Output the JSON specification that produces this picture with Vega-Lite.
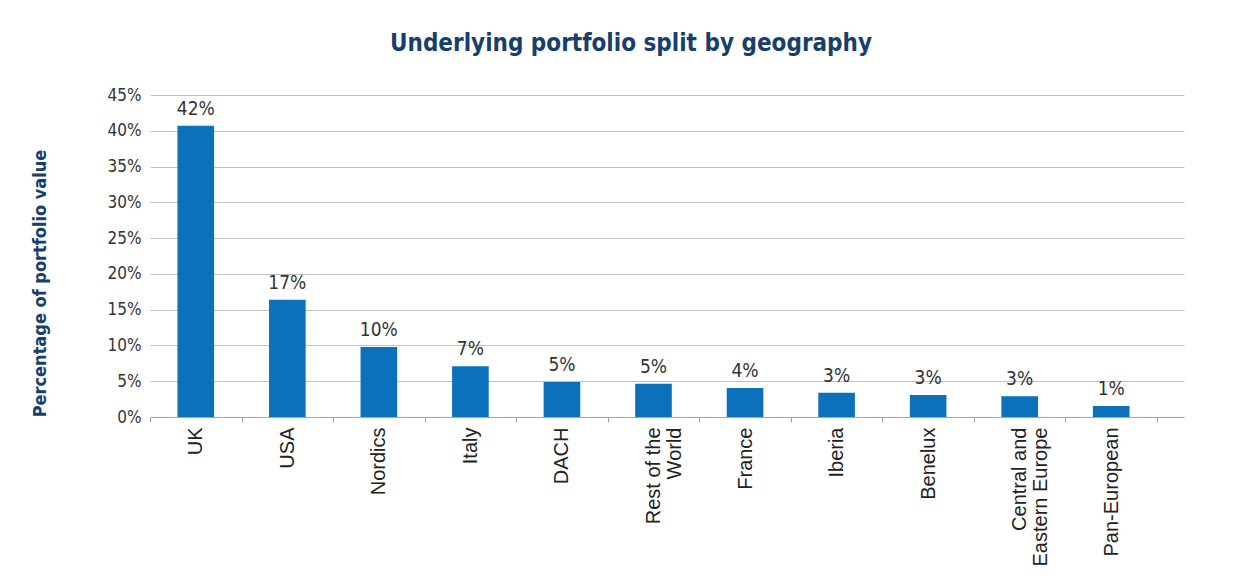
{
  "$schema": "https://vega.github.io/schema/vega-lite/v6.json",
  "width": 1034,
  "height": 322,
  "autosize": "none",
  "padding": {"left": 150, "top": 95, "right": 69, "bottom": 159},
  "background": "white",
  "title": {
    "text": "Underlying portfolio split by geography",
    "font": "Liberation Sans Narrow, DejaVu Sans Condensed, Liberation Sans, sans-serif",
    "fontWeight": "bold",
    "fontSize": 24,
    "color": "#173F6C",
    "anchor": "middle",
    "frame": "group",
    "dx": -36,
    "offset": 30
  },
  "config": {"view": {"stroke": null}},
  "data": {
    "values": [
      {"region": "UK", "share": 0.407, "label": "42%"},
      {"region": "USA", "share": 0.164, "label": "17%"},
      {"region": "Nordics", "share": 0.098, "label": "10%"},
      {"region": "Italy", "share": 0.071, "label": "7%"},
      {"region": "DACH", "share": 0.049, "label": "5%"},
      {"region": "Rest of the World", "share": 0.0465, "label": "5%"},
      {"region": "France", "share": 0.0405, "label": "4%"},
      {"region": "Iberia", "share": 0.034, "label": "3%"},
      {"region": "Benelux", "share": 0.0307, "label": "3%"},
      {"region": "Central and Eastern Europe", "share": 0.0289, "label": "3%"},
      {"region": "Pan-European", "share": 0.0154, "label": "1%"}
    ]
  },
  "encoding": {
    "x": {
      "field": "region",
      "type": "nominal",
      "sort": null,
      "scale": {"paddingInner": 0, "paddingOuter": 0.1475, "align": 0},
      "axis": {
        "title": null,
        "labelAngle": -90,
        "labelAlign": "right",
        "labelBaseline": "middle",
        "labelFont": "Liberation Sans",
        "labelFontSize": 20,
        "labelColor": "#222222",
        "labelPadding": 5,
        "labelLineHeight": 21,
        "tickBand": "extent",
        "tickSize": 5,
        "tickColor": "#A6A6A6",
        "domainColor": "#A6A6A6",
        "grid": false,
        "labelExpr": "datum.value == 'Rest of the World' ? ['Rest of the', 'World'] : datum.value == 'Central and Eastern Europe' ? ['Central and', 'Eastern Europe'] : datum.label"
      }
    },
    "y": {
      "field": "share",
      "type": "quantitative",
      "scale": {"domain": [0, 0.45]},
      "axis": {
        "title": "Percentage of portfolio value",
        "titleFont": "Liberation Sans Narrow, DejaVu Sans Condensed, Liberation Sans, sans-serif",
        "titleFontWeight": "bold",
        "titleFontSize": 18,
        "titleColor": "#173F6C",
        "titleX": -110,
        "titleY": 188,
        "titleAngle": -90,
        "titleAlign": "center",
        "titleBaseline": "middle",
        "values": [0, 0.05, 0.1, 0.15, 0.2, 0.25, 0.3, 0.35, 0.4, 0.45],
        "format": ".0%",
        "labelFont": "Liberation Sans Narrow, DejaVu Sans Condensed, Liberation Sans, sans-serif",
        "labelFontSize": 17,
        "labelColor": "#333333",
        "labelPadding": 9,
        "ticks": false,
        "domain": false,
        "gridColor": "#C0C0C0"
      }
    }
  },
  "layer": [
    {"mark": {"type": "bar", "width": {"band": 0.4}, "color": "#0A71BA"}},
    {
      "mark": {"type": "text", "baseline": "bottom", "dy": -7, "font": "Liberation Sans Narrow, DejaVu Sans Condensed, Liberation Sans, sans-serif", "fontSize": 19, "color": "#333333"},
      "encoding": {"text": {"field": "label"}}
    }
  ]
}
